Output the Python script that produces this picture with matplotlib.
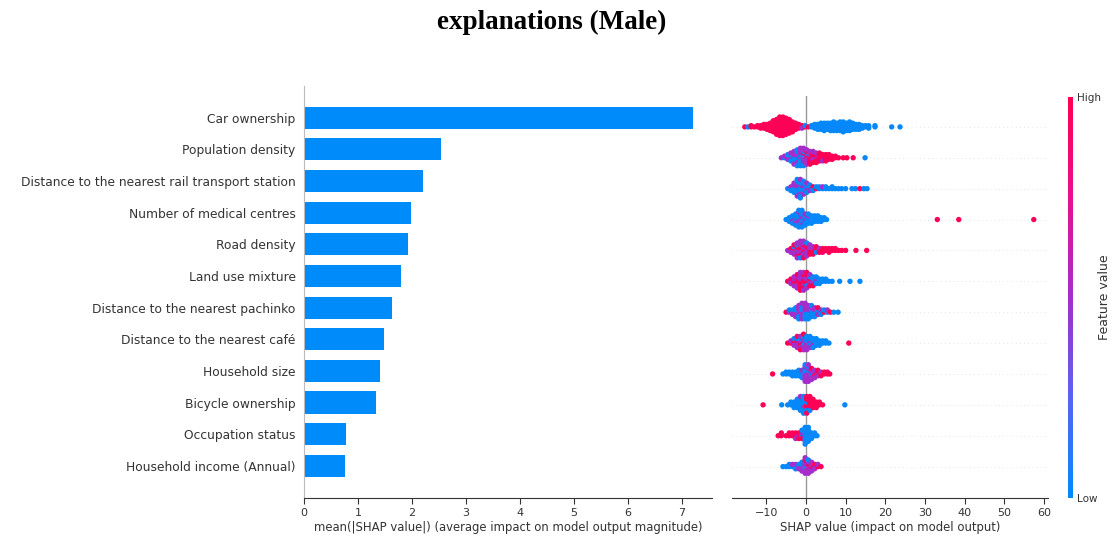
import numpy as np
import matplotlib
matplotlib.use("Agg")
import matplotlib.pyplot as plt
from matplotlib.colors import LinearSegmentedColormap
from matplotlib.cm import ScalarMappable

# features, top to bottom
features = ["Car ownership", "Population density",
            "Distance to the nearest rail transport station",
            "Number of medical centres", "Road density", "Land use mixture",
            "Distance to the nearest pachinko", "Distance to the nearest café",
            "Household size", "Bicycle ownership", "Occupation status",
            "Household income (Annual)"]
mean_abs_shap = [7.20, 2.54, 2.20, 1.99, 1.93, 1.79, 1.63, 1.48, 1.41, 1.34, 0.77, 0.76]

# beeswarm: shap value of each column and the points stacked in it
# (b = low feature value, p = middle, r = high)
car_x = [-15.4, -14.6, -13.8, -13.0, -12.2, -11.4, -10.6, -9.8, -9.0, -8.2, -7.4, -6.6,
         -5.8, -5.0, -4.2, -3.4, -2.6, -1.8, -1.0, -0.2, 0.6, 1.4, 2.2, 3.0, 3.8, 4.6,
         5.4, 6.2, 7.0, 7.8, 8.6, 9.4, 10.2, 11.0, 11.8, 12.6, 13.4, 14.2, 15.0, 15.8,
         17.4, 21.6, 23.7]
car_pts = ["r", "b", "rr", "r", "rr", "rrr", "r" * 4, "r" * 5, "r" * 7, "r" * 10, "r" * 13,
           "r" * 16, "r" * 16, "r" * 14, "r" * 12, "r" * 9, "r" * 6, "r" * 4, "rrp", "rb",
           "r", "bb", "b" * 4, "b" * 5, "b" * 6, "b" * 7, "b" * 6, "b" * 7, "b" * 8, "b" * 7,
           "b" * 8, "b" * 9, "b" * 7, "b" * 8, "b" * 6, "b" * 5, "b" * 5, "bbb", "bb", "bbb",
           "bb", "b", "b"]

pop_x = [-6.2, -5.4, -4.6, -3.8, -3.0, -2.2, -1.4, -0.6, 0.2, 1.0, 1.8, 2.6, 3.4, 4.2,
         5.0, 5.8, 6.6, 7.4, 8.2, 9.4, 10.3, 11.9, 14.9]
pop_pts = ["p", "bp", "pbpb", "pbpbbp", "pbbpbpbpp", "bpbpbppbpbb", "pbpbbpbpbpbp",
           "pbpbprpbppbp", "rpprpbprpp", "rprprprpr", "rrprprrp", "rrprrpr", "rprrrr",
           "rrrrp", "rrrrr", "rrrr", "rrr", "rr", "r", "r", "r", "r", "b"]

rail_x = [-4.6, -3.8, -3.0, -2.2, -1.4, -0.6, 0.2, 1.0, 1.8, 2.6, 3.4, 4.2, 5.0, 5.8,
          6.6, 7.4, 8.2, 9.0, 10.0, 11.6, 12.5, 13.6, 14.6, 15.4]
rail_pts = ["b", "bpb", "pbbpbp", "bpbpbpbbpb", "pbbpbbpbbpb", "bpbpbbpb", "bbpbbp",
            "bbpb", "brb", "rb", "bb", "bp", "bb", "b", "bb", "b", "b", "b", "b", "b",
            "b", "r", "b", "b"]

med_x = [-5.0, -4.2, -3.4, -2.6, -1.8, -1.0, -0.2, 0.6, 1.4, 2.2, 3.0, 3.8, 4.6, 5.2,
         33.1, 38.5, 57.4]
med_pts = ["b", "bbb", "bbpbb", "bpbbpbb", "bbpbpbbpbb", "bpbpbbpbbb", "bbpbbpb",
           "bbbpbb", "bbbbb", "bbbb", "bbbb", "bbb", "bb", "b", "r", "r", "r"]

road_x = [-4.6, -3.8, -3.0, -2.2, -1.4, -0.6, 0.2, 1.0, 1.8, 2.6, 3.4, 4.2, 5.0, 5.8,
          6.6, 7.4, 8.2, 9.0, 10.0, 12.6, 15.3]
road_pts = ["p", "prp", "prpbpr", "rpprpbrpp", "prprpprpbp", "pprpprpprp", "rpprprpb",
            "rprprp", "rprpr", "rrbr", "rpr", "rrr", "rr", "rrr", "rr", "rr", "r", "r",
            "r", "r", "r"]

land_x = [-4.6, -3.8, -3.0, -2.2, -1.4, -0.6, 0.2, 1.0, 1.8, 2.6, 3.4, 4.2, 5.0, 5.8,
          6.6, 8.5, 11.1, 13.6]
land_pts = ["r", "prp", "rprpp", "prrpprp", "rprprprpr", "prrpprrpp", "rprpbrpr",
            "prpbrp", "pbpbr", "bpbb", "bbb", "bb", "bb", "b", "b", "b", "b", "b"]

pach_x = [-5.0, -4.2, -3.4, -2.6, -1.8, -1.0, -0.2, 0.6, 1.4, 2.2, 3.0, 3.8, 4.6, 5.4,
          6.2, 7.0, 8.1]
pach_pts = ["r", "pb", "pbp", "pbpbp", "bpppbpb", "pbpbpbpp", "ppbpbpbp", "bpbpbpb",
            "pbbpbb", "bpbpb", "bbpr", "bpb", "rb", "bp", "r", "b", "b"]

cafe_x = [-4.6, -3.8, -3.0, -2.2, -1.4, -0.6, 0.2, 1.0, 1.8, 2.6, 3.4, 4.2, 5.0, 5.8, 10.8]
cafe_pts = ["r", "rp", "prpb", "prpbpr", "pprbppr", "rpbppbpr", "pbpbpbp", "bpbbpb",
            "bbpbb", "bbbb", "bbb", "bb", "bb", "b", "r"]

hh_x = [-8.4, -5.8, -5.0, -4.2, -3.4, -2.6, -1.8, -1.0, -0.2, 0.6, 1.4, 2.2, 3.0, 3.8,
        4.6, 5.4, 6.0]
hh_pts = ["r", "b", "bb", "bb", "bbb", "bbb", "bbbb", "bbbpb", "pbpbpbpppb", "pppbpppbpp",
          "ppbpprp", "pprpp", "prpr", "rpr", "rr", "rr", "r"]

bike_x = [-10.8, -6.1, -4.6, -3.8, -3.0, -2.2, -1.4, -0.6, 0.2, 1.0, 1.8, 2.6, 3.4, 4.2, 9.8]
bike_pts = ["r", "b", "b", "bb", "bbb", "bbbb", "bbbbbp", "bbpbbbb", "rbrrbrr", "rrrrbr",
            "rrrr", "rrr", "rr", "r", "b"]

occ_x = [-7.0, -6.2, -5.0, -4.2, -3.4, -2.6, -1.8, -1.0, -0.2, 0.6, 1.4, 2.2, 2.8]
occ_pts = ["r", "rr", "r", "rr", "rr", "rrp", "prr", "bprb", "b" * 7, "b" * 6, "bbb",
           "bb", "b"]

inc_x = [-5.8, -5.0, -4.2, -3.4, -2.6, -1.8, -1.0, -0.2, 0.6, 1.4, 2.2, 3.0, 3.8]
inc_pts = ["b", "b", "bb", "bp", "bpb", "pbp", "pbpbp", "ppbpprpp", "prpppbp", "pprpp",
           "prp", "rp", "r"]

swarm_rows = [(car_x, car_pts), (pop_x, pop_pts), (rail_x, rail_pts), (med_x, med_pts),
              (road_x, road_pts), (land_x, land_pts), (pach_x, pach_pts),
              (cafe_x, cafe_pts), (hh_x, hh_pts), (bike_x, bike_pts),
              (occ_x, occ_pts), (inc_x, inc_pts)]
level = {"b": 0.02, "p": 0.5, "r": 0.98}

# shap-style red/blue map
red_blue = LinearSegmentedColormap.from_list(
    "red_blue", ["#008bfb", "#5a62f0", "#a42ecb", "#e8108e", "#ff0051"])
grey = "#333333"

fig = plt.figure(figsize=(11.19, 5.4), dpi=100)
fig.text(0.493, 0.958, "explanations (Male)", ha="center", va="center",
         family="Liberation Serif", weight="bold", fontsize=19.5)

n = len(features)
ypos = np.arange(n)[::-1]

# ---- mean |shap| bars
ax1 = fig.add_axes([0.2717, 0.0787, 0.3646, 0.762])
ax1.barh(ypos, mean_abs_shap, 0.7, color="#008bfb", align="center")
ax1.set_ylim(-1, n)
ax1.set_xlim(0, 7.56)
ax1.set_yticks(ypos)
ax1.set_yticklabels(features, fontsize=8.8, color=grey)
ax1.tick_params(axis="y", length=0, pad=6)
ax1.tick_params(axis="x", labelsize=8, labelcolor=grey, color=grey, length=4, width=0.8)
ax1.set_xticks(range(8))
ax1.spines["top"].set_visible(False)
ax1.spines["right"].set_visible(False)
ax1.spines["left"].set_color("#bbbbbb")
ax1.spines["bottom"].set_color(grey)
ax1.set_xlabel("mean(|SHAP value|) (average impact on model output magnitude)",
               fontsize=8.4, color=grey, labelpad=2)

# ---- beeswarm
ax2 = fig.add_axes([0.6539, 0.0787, 0.2827, 0.7435])
ax2.axvline(0, color="#999999", lw=1, zorder=-1)
for row, (xs, cols) in zip(ypos, swarm_rows):
    ax2.axhline(row, color="#cccccc", lw=0.5, dashes=(1, 5), zorder=-1)
    max_off = max(len(c) // 2 for c in cols)
    scale = 0.36 / (max_off + 1)
    px, py, pc = [], [], []
    for x, col in zip(xs, cols):
        for k, ch in enumerate(col):
            off = int(np.ceil(k / 2)) * (1 if k % 2 else -1)
            px.append(x)
            py.append(row + off * scale)
            pc.append(level[ch])
    ax2.scatter(px, py, c=pc, cmap=red_blue, vmin=0, vmax=1, s=15, linewidths=0)
ax2.set_ylim(-1, n)
ax2.set_xlim(-18.7, 61.0)
ax2.set_yticks([])
ax2.set_xticks(range(-10, 61, 10))
ax2.tick_params(axis="x", labelsize=8, labelcolor=grey, color=grey, length=4, width=0.8)
for s in ["top", "right", "left"]:
    ax2.spines[s].set_visible(False)
ax2.spines["bottom"].set_color(grey)
ax2.set_xlabel("SHAP value (impact on model output)", fontsize=8.4, color=grey, labelpad=2)

# ---- colour bar
cax = fig.add_axes([0.9544, 0.0787, 0.0045, 0.7417])
sm = ScalarMappable(cmap=red_blue)
sm.set_array([0, 1])
cb = fig.colorbar(sm, cax=cax, ticks=[0, 1])
cb.set_ticklabels(["Low", "High"])
cb.outline.set_visible(False)
cax.tick_params(length=0, labelsize=7.5, labelcolor=grey, pad=3)
cb.set_label("Feature value", fontsize=9, color=grey, labelpad=-2)

fig.savefig("out.png", dpi=100, facecolor="white")
